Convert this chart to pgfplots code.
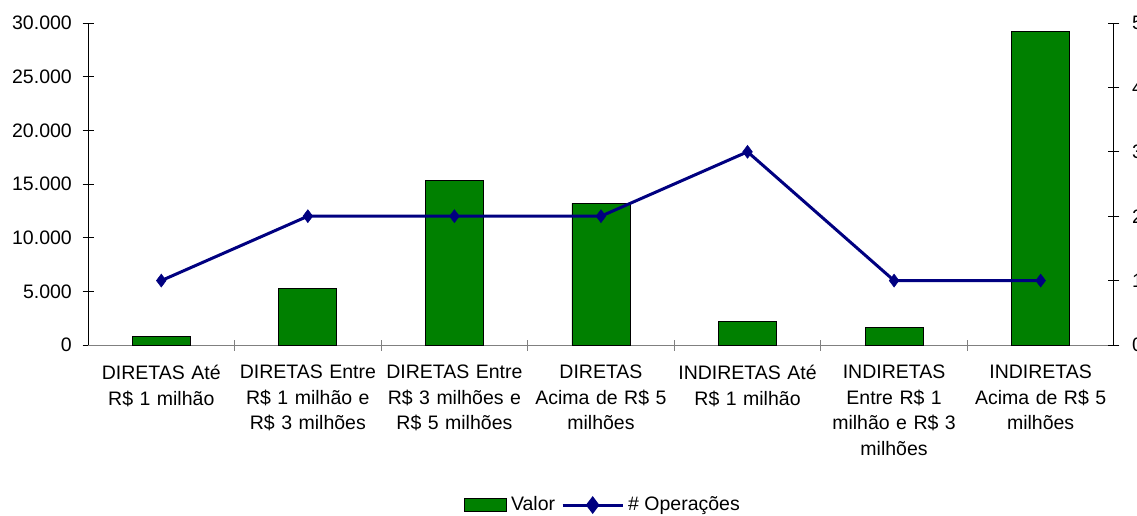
\documentclass[border=0pt]{standalone}
\usepackage{fontspec}
\setmainfont{Liberation Sans}
\usepackage{pgfplots}
\pgfplotsset{compat=1.18}

\definecolor{barGreen}{HTML}{008000}
\definecolor{lineNavy}{HTML}{000080}
\definecolor{axGray}{HTML}{808080}

\newcommand{\chartfont}{\fontsize{19.5pt}{25.5pt}\selectfont}

\begin{document}
\chartfont
\begin{tikzpicture}
% Valor (left axis, bars)
\begin{axis}[
  at={(88pt,170pt)}, anchor=south west,
  scale only axis, width=1026pt, height=322pt,
  xmin=-0.5, xmax=6.5, ymin=0, ymax=30000,
  axis x line=bottom, axis y line=left,
  axis line style={-},
  x axis line style={axGray, line width=1pt},
  y axis line style={black, line width=1pt},
  ybar, bar width=58pt,
  xtick={0,...,6},
  xticklabels={
    {DIRETAS Até\\R\$ 1 milhão},
    {DIRETAS Entre\\R\$ 1 milhão e\\R\$ 3 milhões},
    {DIRETAS Entre\\R\$ 3 milhões e\\R\$ 5 milhões},
    {DIRETAS\\Acima de R\$ 5\\milhões},
    {INDIRETAS Até\\R\$ 1 milhão},
    {INDIRETAS\\Entre R\$ 1\\milhão e R\$ 3\\milhões},
    {INDIRETAS\\Acima de R\$ 5\\milhões}},
  xticklabel style={font=\chartfont, align=center, text width=145pt, anchor=north, yshift=-8pt},
  major x tick style={draw=none},
  minor xtick={0.5,1.5,...,5.5},
  minor x tick style={axGray, line width=1pt},
  minor tick length=11pt,
  ytick={0,5000,...,30000},
  scaled y ticks=false,
  major tick length=11pt,
  tick align=center,
  y tick style={black, line width=1pt},
  yticklabel style={font=\chartfont, xshift=-4pt,
    /pgf/number format/.cd, fixed, 1000 sep={.}, assume math mode=true},
]
\addplot[fill=barGreen, draw=black, line width=0.8pt] coordinates {
  (0,800) (1,5300) (2,15300) (3,13200) (4,2200) (5,1600) (6,29200)
};
\end{axis}

% # Operacoes (right axis, line)
\begin{axis}[
  at={(88pt,170pt)}, anchor=south west,
  scale only axis, width=1026pt, height=322pt,
  xmin=-0.5, xmax=6.5, ymin=0, ymax=5,
  axis x line=none, axis y line=right,
  axis line style={-, black, line width=1pt},
  ytick={0,...,5},
  major tick length=11pt,
  tick align=center,
  y tick style={black, line width=1pt},
  yticklabel style={font=\chartfont, xshift=6pt},
  /pgf/number format/assume math mode=true,
  legend columns=2,
  legend style={draw=none, fill=none, font=\chartfont,
    at={(0.503,-0.497)}, anchor=center,
    nodes={inner xsep=4pt},
    /tikz/every even column/.append style={column sep=2pt}},
]
\addlegendimage{legend image code/.code={
  \draw[fill=barGreen, draw=black, line width=0.8pt] (0pt,-6.5pt) rectangle (42pt,6.5pt);}}
\addlegendentry{Valor}
\addplot[lineNavy, line width=3pt, mark=diamond*,
  mark size=6.5pt, mark options={fill=lineNavy, line width=0.5pt},
  legend image code/.code={
    \draw[lineNavy, line width=3pt] (0pt,0pt) -- (60pt,0pt);
    \fill[lineNavy] (30pt,6.5pt) -- (4.9pt+30pt,0pt) -- (30pt,-6.5pt) -- (30pt-4.9pt,0pt) -- cycle;}]
  coordinates {(0,1) (1,2) (2,2) (3,2) (4,3) (5,1) (6,1)};
\addlegendentry{\# Operações}
\end{axis}

\pgfresetboundingbox
\path (0pt,0pt) rectangle (1137pt,515pt);
\end{tikzpicture}
\end{document}
